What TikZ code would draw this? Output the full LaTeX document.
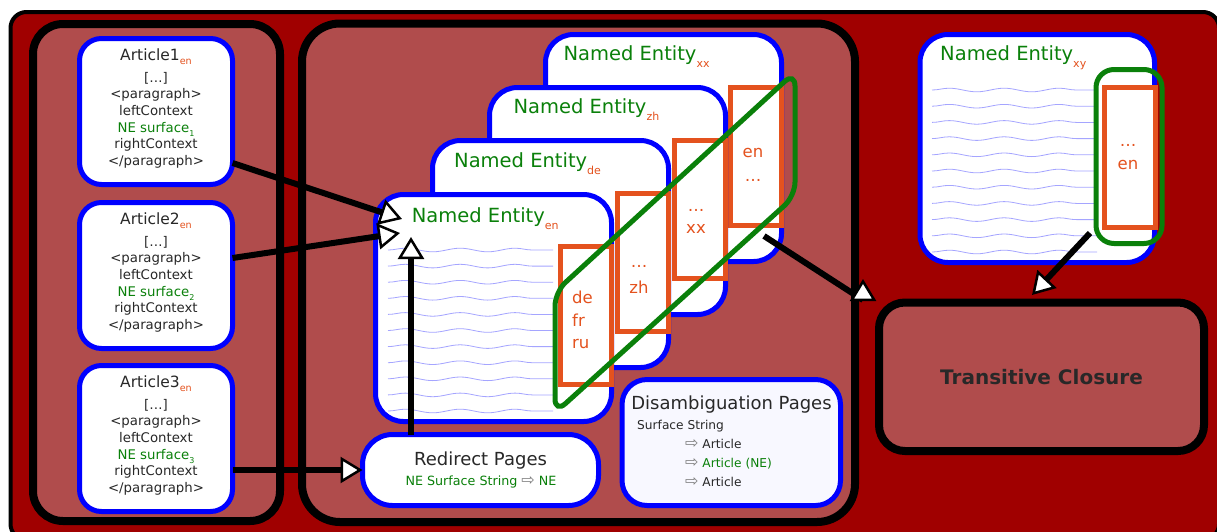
\documentclass[tikz,border=0pt]{standalone}
\usepackage{fontspec}
\setmainfont{DejaVu Sans}
\usepackage{xcolor}
\usepackage{tikz}
\usetikzlibrary{arrows.meta, decorations.pathmorphing}

\definecolor{outerred}{RGB}{160,0,0}
\definecolor{panelred}{RGB}{176,76,76}
\definecolor{neblue}{RGB}{0,0,255}
\definecolor{neorange}{RGB}{228,82,30}
\definecolor{negreen}{RGB}{10,128,10}
\definecolor{waveblue}{RGB}{165,165,255}
\definecolor{darktext}{RGB}{40,40,40}
\definecolor{disfill}{RGB}{248,248,255}
\definecolor{arrgray}{RGB}{125,125,125}
\newcommand{\langsub}[3]{\raisebox{-#1pt}{\fontsize{#2}{#2}\selectfont #3}}
\newcommand{\openarrow}{{\fontsize{16}{16}\selectfont\color{arrgray}⇨}}

\begin{document}
\begin{tikzpicture}[x=1pt,y=-1pt,
  panel/.style={draw=black,line width=8pt,fill=panelred},
  artbox/.style={draw=neblue,line width=5pt,fill=white,rounded corners=22pt,minimum width=153pt,minimum height=146pt,inner sep=0pt,outer sep=0pt,anchor=north},
  arttitle/.style={anchor=base,inner sep=0pt,text=darktext,font=\fontsize{15.5}{18}\selectfont},
  arttext/.style={anchor=base,inner sep=0pt,text=darktext,font=\fontsize{13.3}{16}\selectfont},
  card/.style={draw=neblue,line width=5pt,fill=white,rounded corners=28pt,minimum width=236pt,minimum height=227pt,inner sep=0pt,outer sep=0pt,anchor=north west},
  cardtitle/.style={anchor=base west,inner sep=0pt,text=negreen,font=\fontsize{19.5}{22}\selectfont},
  langbox/.style={draw=neorange,line width=5pt,fill=white,minimum width=51pt,minimum height=138pt,inner sep=0pt,outer sep=0pt,anchor=north east},
  langtext/.style={anchor=base,inner sep=0pt,text=neorange,font=\fontsize{16.5}{20}\selectfont},
  wave/.style={draw=waveblue,line width=0.8pt,decorate,decoration={snake,amplitude=1.8pt,segment length=55pt}},
  pagebox/.style={draw=neblue,line width=5pt,inner sep=0pt,outer sep=0pt},
  pagetext/.style={inner sep=0pt,text=darktext},
  neloop/.style={draw=negreen,line width=5pt,rounded corners=14pt},
  link/.style={line width=6pt,-{Triangle[fill=white,length=22pt,width=26pt,line width=2.5pt]}}
]

\useasboundingbox (0,0) rectangle (1217,531);
\fill[white] (0,0) rectangle (1217,531);
\clip (0,0) rectangle (1217,531);

\draw[line width=4pt,fill=outerred,rounded corners=16pt] (10.5,12) rectangle (1219,540);
\draw[panel,rounded corners=30pt] (33,24) rectangle (280,521);
\draw[panel,rounded corners=38pt] (302,23.5) rectangle (855,522);

\foreach \k/\top in {1/38.5,2/202.5,3/365.5}{
  \node[artbox] (art\k) at (156,\top) {};
  \node[arttitle] (art\k-title) at (156,\top+21.5) {Article\k\langsub{4.5}{9.6}{\color{neorange}en}};
  \node[arttext] (art\k-l1) at (156,\top+43.5) {[…]};
  \node[arttext] (art\k-l2) at (156,\top+60.2) {<paragraph>};
  \node[arttext] (art\k-l3) at (156,\top+76.9) {leftContext};
  \node[arttext,text=negreen] (art\k-l4) at (156,\top+93.6) {NE surface\langsub{4}{8}{\k}};
  \node[arttext] (art\k-l5) at (156,\top+110.3) {rightContext};
  \node[arttext] (art\k-l6) at (156,\top+127) {</paragraph>};
}

\node[card] (nexx) at (545.5,34.5) {};
\node[langbox] (langxx) at ([yshift=-53pt]nexx.north east) {};
\node[cardtitle] (titlexx) at (563.3,60) {Named Entity\langsub{7}{11}{\color{neorange}xx}};
\node[langtext] (langxx-1) at (753,157.5) {en};
\node[langtext] (langxx-2) at (753,181) {…};

\node[card] (nezh) at (489.5,87.5) {};
\node[langbox] (langzh) at ([yshift=-53pt]nezh.north east) {};
\node[cardtitle] (titlezh) at (513.3,113) {Named Entity\langsub{7}{11}{\color{neorange}zh}};
\node[langtext] (langzh-1) at (696,211) {…};
\node[langtext] (langzh-2) at (696,233.5) {xx};

\node[card] (nede) at (432.5,140.5) {};
\node[langbox] (langde) at ([yshift=-53pt]nede.north east) {};
\node[cardtitle] (titlede) at (454,167) {Named Entity\langsub{7}{11}{\color{neorange}de}};
\node[langtext] (langde-1) at (639,267) {…};
\node[langtext] (langde-2) at (639,293) {zh};

\node[card] (neen) at (375.5,194.5) {};
\foreach \y in {250,266.1,...,412}
  \draw[wave] (388,\y) -- (553,\y);
\node[langbox] (langen) at ([yshift=-52pt]neen.north east) {};
\node[cardtitle] (titleen) at (411.7,222.7) {Named Entity\langsub{7}{11}{\color{neorange}en}};
\node[langtext,anchor=base west] (langen-1) at (572,303) {de};
\node[langtext,anchor=base west] (langen-2) at (572,326) {fr};
\node[langtext,anchor=base west] (langen-3) at (572,348) {ru};

\draw[neloop] (555,292) -- (555,413) -- (795,196) -- (795,72) -- cycle;

\node[pagebox,fill=white,rounded corners=30pt,minimum width=236pt,minimum height=71pt] (redir) at (480.5,470) {};
\node[pagetext,anchor=base,font=\fontsize{18}{20}\selectfont] (redir-title) at (480.5,465) {Redirect Pages};
\node[pagetext,anchor=base,text=negreen,font=\fontsize{12.7}{15}\selectfont] (redir-sub) at (481,485) {NE Surface String \openarrow{} NE};

\node[pagebox,fill=disfill,rounded corners=25pt,minimum width=218.5pt,minimum height=126pt] (disamb) at (731.25,442.5) {};
\node[pagetext,anchor=base,font=\fontsize{18}{20}\selectfont] (disamb-title) at (731.5,409.5) {Disambiguation Pages};
\node[pagetext,anchor=base west,font=\fontsize{12.2}{14}\selectfont] (disamb-str) at (637,429.5) {Surface String};
\node[pagetext,anchor=base west,font=\fontsize{12.2}{14}\selectfont] (disamb-a1) at (685,448.5) {\openarrow{} Article};
\node[pagetext,anchor=base west,font=\fontsize{12.2}{14}\selectfont] (disamb-a2) at (685,467.5) {\openarrow{} {\color{negreen}Article (NE)}};
\node[pagetext,anchor=base west,font=\fontsize{12.2}{14}\selectfont] (disamb-a3) at (685,486.5) {\openarrow{} Article};

\node[card,minimum width=234.5pt,minimum height=228pt] (nexy) at (920,34.5) {};
\foreach \y in {90,106.2,...,254}
  \draw[wave] (932,\y) -- (1097,\y);
\node[cardtitle] (titlexy) at (940,60) {Named Entity\langsub{7}{11}{\color{neorange}xy}};
\node[langbox,minimum height=140pt] (langxy) at ([xshift=1pt,yshift=-53pt]nexy.north east) {};
\node[langtext] (langxy-1) at (1128,146) {…};
\node[langtext] (langxy-2) at (1128,169.5) {en};
\node[draw=negreen,line width=5pt,rounded corners=18pt,minimum width=66pt,minimum height=174pt,inner sep=0pt,outer sep=0pt] (grxy) at (1129,156.5) {};

\node[draw=black,line width=8pt,fill=panelred,rounded corners=26pt,minimum width=325pt,minimum height=148.5pt,inner sep=0pt,outer sep=0pt,text=darktext,font=\bfseries\fontsize{20}{22}\selectfont] (tc) at (1041.5,376.75) {Transitive Closure};

\draw[link] ([yshift=-51.5pt]art1.east) -- ([xshift=26.5pt,yshift=-24.5pt]neen.north west);
\draw[link] ([yshift=17.5pt]art2.east) -- ([xshift=24.5pt,yshift=-38.5pt]neen.north west);
\draw[link] ([yshift=-31.5pt]art3.east) -- (redir.west);
\draw[link] ([xshift=-69.5pt]redir.north) -- ([xshift=35.5pt,yshift=-42.5pt]neen.north west);
\draw[link,line join=round] ([xshift=-17.5pt,yshift=25.5pt]nexx.south east) -- ([xshift=-16pt,yshift=2.5pt]tc.north west) -- ++(0,-21);
\draw[link] ([xshift=-6pt,yshift=10.5pt]grxy.south west) -- ([xshift=-9.5pt,yshift=7.5pt]tc.north);

\end{tikzpicture}
\end{document}
